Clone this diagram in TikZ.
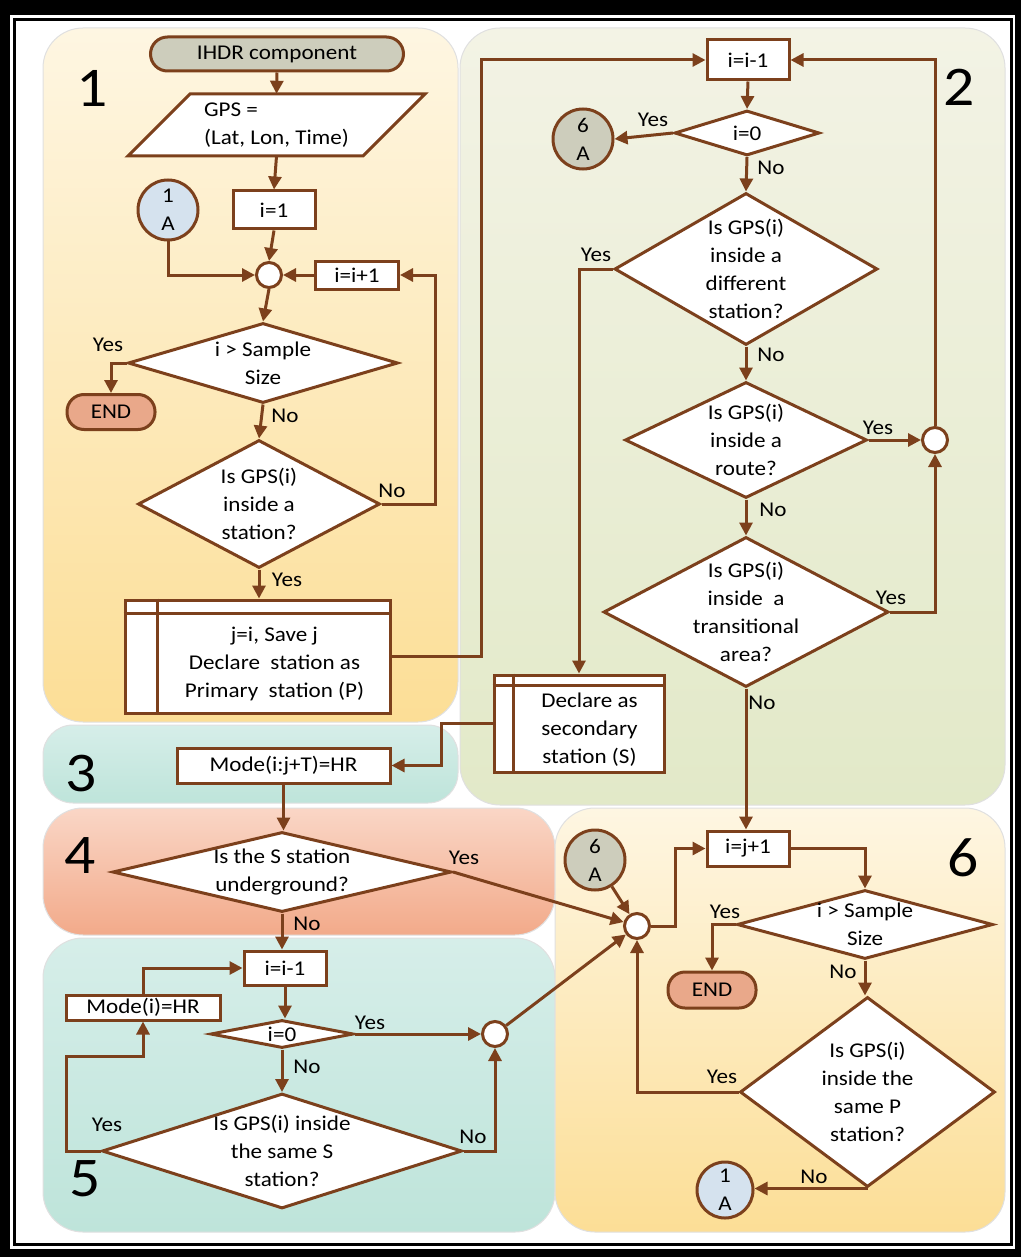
\documentclass[tikz,border=0pt]{standalone}
\usepackage{fontspec}
\setmainfont{Carlito}[FakeStretch=1.1]
\usetikzlibrary{shapes.geometric,arrows.meta}
\definecolor{brn}{RGB}{124,64,28}
\definecolor{gry}{RGB}{205,205,188}
\definecolor{lblue}{RGB}{213,226,238}
\definecolor{salmon}{RGB}{233,168,138}
\definecolor{yeltop}{RGB}{254,246,226}
\definecolor{yelbot}{RGB}{252,222,150}
\definecolor{grntop}{RGB}{243,243,229}
\definecolor{grnbot}{RGB}{226,233,200}
\definecolor{tealtop}{RGB}{214,238,233}
\definecolor{tealbot}{RGB}{190,228,218}
\definecolor{redtop}{RGB}{250,214,198}
\definecolor{redbot}{RGB}{242,170,138}

\begin{document}
\begin{tikzpicture}[x=1pt,y=-1pt]
\tikzstyle{every node}+=[inner sep=0pt, font=\fontsize{21}{28}\selectfont]
\tikzstyle{box}=[draw=brn, line width=3, fill=white]
\tikzstyle{dec}=[diamond, draw=brn, line width=3, fill=white]
\tikzstyle{io}=[align=left, minimum width=235, minimum height=62]
\tikzstyle{term}=[draw=brn, line width=3, rounded corners=17, minimum height=34]
\tikzstyle{conn}=[circle, draw=brn, line width=3, minimum size=60, align=center]
\tikzstyle{jn}=[circle, draw=brn, line width=3, fill=white, minimum size=25]
\tikzstyle{txt}=[align=center]
\tikzstyle{num}=[font=\fontsize{56}{60}\selectfont]
\tikzstyle{arr}=[draw=brn, line width=3, -{Triangle[length=13pt,width=13pt]}]
\tikzstyle{ln}=[draw=brn, line width=3]
\tikzstyle{panel}=[rounded corners=40, draw=black!12, line width=1]
\fill [black] (0,0) rectangle (1021,1257);
\fill [white] (10,15) rectangle (1015,1249);
\draw [black, line width=3, fill=white] (14.5,19.5) rectangle (1011,1244);
\shadedraw [panel, top color=yeltop, bottom color=yelbot] (43,28) rectangle (458,722);
\shadedraw [panel, top color=grntop, bottom color=grnbot] (460,28) rectangle (1005,805);
\shadedraw [panel, rounded corners=30, top color=tealtop, bottom color=tealbot] (43,725) rectangle (458,803);
\shadedraw [panel, top color=redtop, bottom color=redbot] (43,808) rectangle (555,935);
\shadedraw [panel, top color=tealtop, bottom color=tealbot] (43,938) rectangle (555,1232);
\shadedraw [panel, top color=yeltop, bottom color=yelbot] (555,808) rectangle (1005,1232);

\draw [ln, fill=white, line join=miter] (190,94) -- (425,94) -- (363,156) -- (128,156) -- cycle;

\node [num] (n1) at (92,88) {1};
\node [term, fill=gry, minimum width=253] (ihdr) at (277,54) {IHDR component};
\node [io] (gps) at (276.5,125) {GPS =\\(Lat, Lon, Time)};
\node [box, minimum width=82, minimum height=38] (i1) at (274,210) {i=1};
\node [conn, fill=lblue] (c1a) at (168,210) {1\\A};
\node [jn] (j1) at (269,275) {};
\node [box, minimum width=83, minimum height=28] (ipl) at (357,275) {i=i+1};
\node [dec, minimum width=270, minimum height=80] (d1) at (263,363) {};
\node [txt] (d1t) at (d1) {i > Sample\\Size};
\node [term, fill=salmon, minimum width=88, minimum height=35] (end1) at (111,412) {END};
\node [dec, minimum width=242, minimum height=128] (d2) at (259,504) {};
\node [txt] (d2t) at (d2) {Is GPS(i)\\inside a\\station?};
\node [box, minimum width=265, minimum height=113] (pbox) at (257.5,656.5) {};
\node [txt] (ptxt) at (274.5,664) {j=i, Save j\\Declare\ \ station as\\Primary\ \ station (P)};
\node (yes1) at (108,345) {Yes};
\node (no1) at (285,416) {No};
\node (no2) at (392,491) {No};
\node (yes2) at (287,580) {Yes};

\node [num] (n2) at (959,87) {2};
\node [box, minimum width=82, minimum height=40] (im1) at (748,60) {i=i-1};
\node [dec, minimum width=145, minimum height=45] (d3) at (747,133) {};
\node [txt] (d3t) at (d3) {i=0};
\node [conn, fill=gry] (c6a) at (583,139) {6\\A};
\node [dec, minimum width=263, minimum height=152] (d4) at (746,269) {};
\node [txt] (d4t) at (d4) {Is GPS(i)\\inside a\\different\\station?};
\node [dec, minimum width=242, minimum height=116] (d5) at (746,440) {};
\node [txt] (d5t) at (d5) {Is GPS(i)\\inside a\\route?};
\node [jn] (j2) at (935,440) {};
\node [dec, minimum width=285, minimum height=150] (d6) at (746,612) {};
\node [txt] (d6t) at (d6) {Is GPS(i)\\inside\ \ a\\transitional\\area?};
\node [box, minimum width=170, minimum height=97] (sbox) at (579,723.5) {};
\node [txt] (stxt) at (589.5,730) {Declare as\\secondary\\station (S)};
\node (yes3) at (653,120) {Yes};
\node (no3) at (771,168) {No};
\node (yes4) at (596,255) {Yes};
\node (no4) at (771,355) {No};
\node (yes5) at (878,428) {Yes};
\node (no5) at (773,510) {No};
\node (yes6) at (891,598) {Yes};
\node (no6) at (762,703) {No};

\node [num] (n3) at (81,774) {3};
\node [box, minimum width=213, minimum height=35] (mode1) at (283.5,765.5) {Mode(i:j+T)=HR};

\node [num] (n4) at (80,856) {4};
\node [dec, minimum width=339, minimum height=80] (d7) at (282,872) {};
\node [txt] (d7t) at (d7) {Is the S station\\underground?};
\node (yes7) at (464,858) {Yes};
\node (no7) at (307,924) {No};

\node [num] (n5) at (85,1179) {5};
\node [box, minimum width=82, minimum height=34] (im2) at (285,968) {i=i-1};
\node [box, minimum width=154, minimum height=25] (mode2) at (143,1007.5) {Mode(i)=HR};
\node [dec, minimum width=143, minimum height=28] (d8) at (282,1034) {};
\node [txt] (d8t) at (d8) {i=0};
\node [jn] (j4) at (495,1034) {};
\node [dec, minimum width=360, minimum height=115] (d9) at (282,1151) {};
\node [txt] (d9t) at (d9) {Is GPS(i) inside\\the same S\\station?};
\node (yes8) at (370,1023) {Yes};
\node (no8) at (307,1067) {No};
\node (yes9) at (107,1125) {Yes};
\node (no9) at (473,1137) {No};

\node [num] (n6) at (963,858) {6};
\node [conn, fill=gry] (c6b) at (595,860) {6\\A};
\node [jn] (j3) at (637,926) {};
\node [box, minimum width=82, minimum height=35] (ij1) at (748,848.5) {i=j+1};
\node [dec, minimum width=256, minimum height=69] (d10) at (865,924.5) {};
\node [txt] (d10t) at (d10) {i > Sample\\Size};
\node [term, fill=salmon, minimum width=88, minimum height=36] (end2) at (712,990) {END};
\node [dec, minimum width=255, minimum height=190] (d11) at (867.5,1092) {};
\node [txt] (d11t) at (d11) {Is GPS(i)\\inside the\\same P\\station?};
\node [conn, fill=lblue, minimum size=56] (c1b) at (725,1190) {1\\A};
\node (yes10) at (725,912) {Yes};
\node (no10) at (843,972) {No};
\node (yes11) at (722,1077) {Yes};
\node (no11) at (814,1177) {No};

\draw [ln] ([yshift=-15pt]pbox.north west) -- ([yshift=-15pt]pbox.north east);
\draw [ln] ([xshift=34pt]pbox.north west) -- ([xshift=34pt]pbox.south west);
\draw [ln] ([yshift=-12pt]sbox.north west) -- ([yshift=-12pt]sbox.north east);
\draw [ln] ([xshift=21pt]sbox.north west) -- ([xshift=21pt]sbox.south west);

\draw [arr] (ihdr.south) -- (gps.north);
\draw [arr] (gps.south) -- (i1.north);
\draw [arr] (i1.south) -- (j1.north);
\draw [arr] (c1a.south) |- (j1.west);
\draw [arr] (ipl.west) -- (j1.east);
\draw [arr] (j1.south) -- (d1.north);
\draw [arr] (d1.west) -| (end1.north);
\draw [arr] (d1.south) -- (d2.north);
\draw [arr] (d2.east) -- ++(54,0) |- (ipl.east);
\draw [arr] (d2.south) -- (d2.south |- pbox.north);
\draw [arr] (pbox.east) -- ++(90,0) |- (im1.west);

\draw [arr] (im1.south) -- (d3.north);
\draw [arr] (d3.west) -- (c6a.east);
\draw [arr] (d3.south) -- (d4.north);
\draw [arr] (d4.south) -- (d5.north);
\draw [arr] (d5.east) -- (j2.west);
\draw [arr] (j2.north) |- (im1.east);
\draw [arr] (d5.south) -- (d6.north);
\draw [arr] (d6.east) -| (j2.south);
\draw [arr] (d4.west) -| (sbox.north);
\draw [arr] (sbox.west) -- ++(-51,0) |- (mode1.east);
\draw [arr] (d6.south) -- (d6.south |- ij1.north);

\draw [arr] (mode1.south) -- (mode1.south |- d7.north);
\draw [arr] (d7.east) -- (j3);
\draw [arr] (d7.south) -- (d7.south |- im2.north);

\draw [arr] (mode2.north) |- (im2.west);
\draw [arr] (im2.south) -- (im2.south |- d8.north);
\draw [arr] (d8.east) -- (j4.west);
\draw [arr] (d8.south) -- (d8.south |- d9.north);
\draw [arr] (d9.west) -| (66,1056) -| (mode2.south);
\draw [arr] (d9.east) -| (j4.south);
\draw [arr] (j4) -- (j3);

\draw [arr] (c6b) -- (j3);
\draw [arr] (j3.east) -- ++(24,0) |- (ij1.west);
\draw [arr] (ij1.east) -| (d10.north);
\draw [arr] (d10.west) -| (end2.north);
\draw [arr] (d10.south) -- (d10.south |- d11.north);
\draw [arr] (d11.west) -| (j3.south);
\draw [arr] (d11.south) -- (d11.south -| c1b.east);
\end{tikzpicture}
\end{document}
